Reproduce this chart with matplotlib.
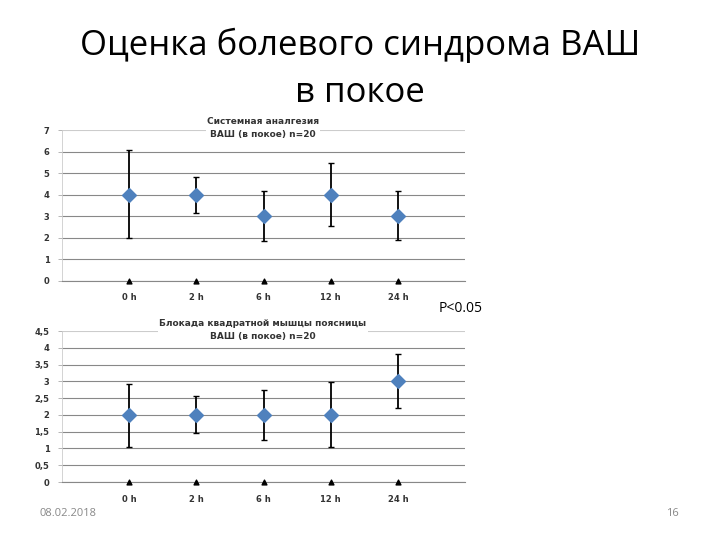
import matplotlib
matplotlib.use("Agg")
import matplotlib.pyplot as plt

categories = ["0 h", "2 h", "6 h", "12 h", "24 h"]
top_vals = [4, 4, 3, 4, 3]
top_low = [2.0, 3.15, 1.85, 2.55, 1.9]
top_high = [6.05, 4.8, 4.15, 5.45, 4.15]
bot_vals = [2, 2, 2, 2, 3]
bot_low = [1.05, 1.45, 1.25, 1.05, 2.2]
bot_high = [2.92, 2.55, 2.75, 2.97, 3.8]
base_vals = [0, 0, 0, 0, 0]
top_ticks = [0, 1, 2, 3, 4, 5, 6, 7]
bot_ticks = [0, 0.5, 1, 1.5, 2, 2.5, 3, 3.5, 4, 4.5]
bot_ticklabels = ["0", "0,5", "1", "1,5", "2", "2,5", "3", "3,5", "4", "4,5"]

plt.rcParams['font.family'] = ['DejaVu Sans']
fig = plt.figure(figsize=(7.2, 5.4), dpi=100)
W, H = 720, 540

def make_ax(y0, y1):
    return fig.add_axes([62 / W, 1 - y0 / H, (465 - 62) / W, (y0 - y1) / H])

def draw(ax, vals, low, high, ticks, ticklabels, ymax, title, title_y):
    x = list(range(1, len(categories) + 1))
    yerr = [[v - l for v, l in zip(vals, low)], [h - v for v, h in zip(vals, high)]]
    ax.errorbar(x, vals, yerr=yerr, fmt='none', ecolor='black', elinewidth=1.3,
                capsize=2, capthick=1, zorder=3)
    ax.scatter(x, vals, marker='D', s=50, color='#4F81BD', zorder=4)
    ax.scatter(x, base_vals, marker='^', s=12, color='black', zorder=4, clip_on=False)
    ax.set_xlim(0, 6)
    ax.set_ylim(0, ymax)
    ax.set_yticks(ticks)
    ax.set_yticklabels(ticklabels, fontsize=6, fontweight='bold', color='#333333')
    ax.set_xticks(x)
    ax.set_xticklabels(categories, fontsize=6, fontweight='bold', color='#333333')
    ax.tick_params(axis='x', length=0, pad=9)
    ax.tick_params(axis='y', length=3, width=0.6, color='#aaaaaa', pad=6)
    ax.grid(axis='y', color='#888888', linewidth=0.8)
    ax.set_axisbelow(True)
    gl = ax.yaxis.get_gridlines()
    gl[-1].set_color('#cccccc')
    for s in ['top', 'right']:
        ax.spines[s].set_visible(False)
    ax.spines['left'].set_color('#cccccc')
    ax.spines['left'].set_linewidth(0.6)
    ax.spines['bottom'].set_color('#888888')
    ax.spines['bottom'].set_linewidth(0.8)
    fig.text(263 / W, 1 - title_y / H, title, ha='center', va='center', fontsize=6.5,
             fontweight='bold', color='#333333', linespacing=1.6, zorder=5,
             bbox=dict(facecolor='white', edgecolor='none', pad=1))

ax1 = make_ax(281, 130)
draw(ax1, top_vals, top_low, top_high, top_ticks, [str(t) for t in top_ticks], 7,
     "Системная аналгезия\nВАШ (в покое) n=20", 128)
ax2 = make_ax(482, 331)
draw(ax2, bot_vals, bot_low, bot_high, bot_ticks, bot_ticklabels, 4.5,
     "Блокада квадратной мышцы поясницы\nВАШ (в покое) n=20", 330)

fig.text(360 / W, 1 - 45 / H, "Оценка болевого синдрома ВАШ", ha='center', va='center',
         fontsize=25, family='Open Sans', color='black')
fig.text(360 / W, 1 - 93 / H, "в покое", ha='center', va='center',
         fontsize=25, family='Open Sans', color='black')
fig.text(461 / W, 1 - 308 / H, "P<0.05", ha='center', va='center', fontsize=10,
         family='Open Sans')
fig.text(40 / W, 1 - 514 / H, "08.02.2018", ha='left', va='center', fontsize=8,
         color='#888888', family='Open Sans')
fig.text(672 / W, 1 - 514 / H, "16", ha='center', va='center', fontsize=8,
         color='#888888', family='Open Sans')

fig.savefig("out.png", dpi=100)
